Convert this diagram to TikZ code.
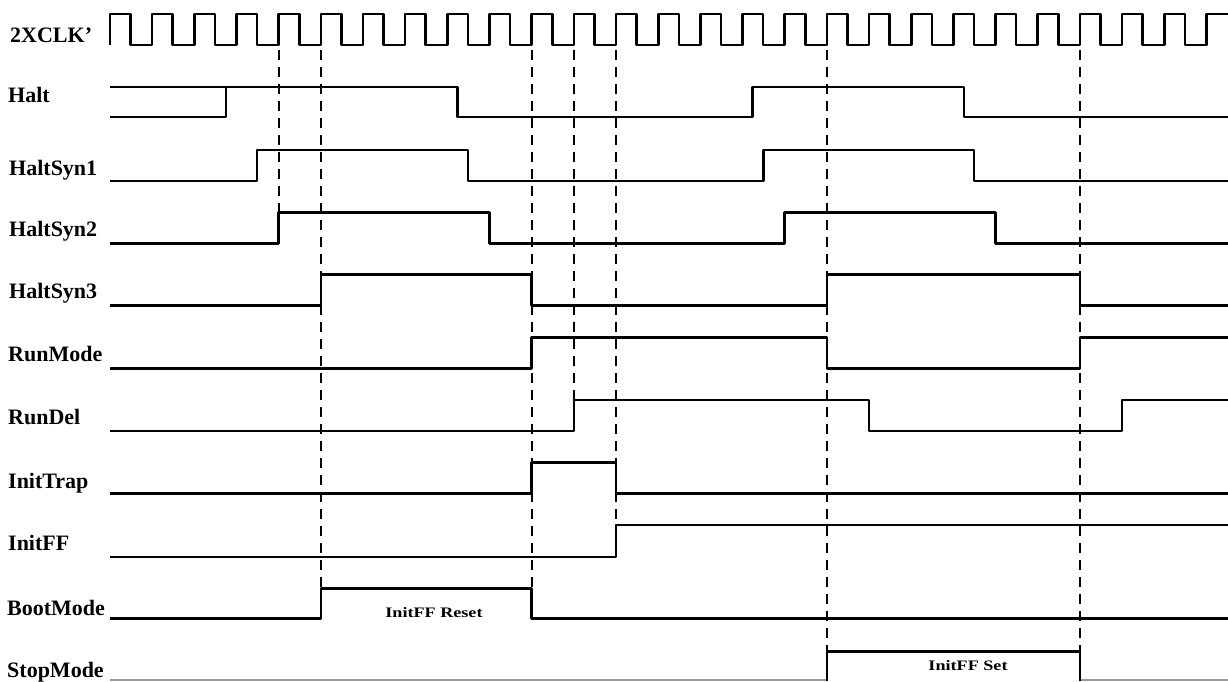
\documentclass[tikz,border=0pt]{standalone}
\usepackage{fontspec}
\usepackage{graphicx}
\setmainfont{Liberation Serif}
\tikzset{
  sig/.style={line width=2.6pt, line join=round},
  faint/.style={line width=2.2pt, black!40},
  guide/.style={line width=2.1pt, dash pattern=on 10pt off 7pt},
  lbl/.style={anchor=base west, inner sep=0pt, font=\fontsize{22}{23}\selectfont\bfseries},
  note/.style={anchor=base, inner sep=0pt, font=\fontsize{14.5}{15}\selectfont\bfseries}
}
\begin{document}
\begin{tikzpicture}[x=1pt,y=-1pt]
\useasboundingbox (0,0) rectangle (1228,681);
% labels
\node[lbl] (lclk) at (10,42) {2XCLK'};
\node[lbl] (lhalt) at (8,102) {Halt};
\node[lbl] (lhs1) at (9,175) {HaltSyn1};
\node[lbl] (lhs2) at (9,236) {HaltSyn2};
\node[lbl] (lhs3) at (9,298) {HaltSyn3};
\node[lbl] (lrun) at (8,361) {RunMode};
\node[lbl] (lrdel) at (8,424) {RunDel};
\node[lbl] (ltrap) at (8,488) {InitTrap};
\node[lbl] (lff) at (8,550) {InitFF};
\node[lbl] (lboot) at (7,615) {BootMode};
\node[lbl] (lstop) at (7,677) {StopMode};
% clock
\draw[sig] (110,45) \foreach \k in {0,...,25} {
  -- ({110+42.17*\k},45) -- ({110+42.17*\k},14) -- ({130.6+42.17*\k},14) -- ({130.6+42.17*\k},45)
} -- (1206.4,45) -- (1206.4,14) -- (1228,14);
% dashed guides
\draw[guide] (278.7,50) -- (278.7,212.3);
\draw[guide] (320.9,50) -- (320.9,588.3);
\draw[guide] (531.7,50) -- (531.7,588.3);
\draw[guide] (573.9,50) -- (573.9,400);
\draw[guide] (616,50) -- (616,525);
\draw[guide] (826.9,50) -- (826.9,651.7);
\draw[guide] (1079.9,50) -- (1079.9,651.7);
% Halt
\draw[sig] (110,87) -- (457.3,87) -- (457.3,117) -- (752.7,117) -- (752.7,87) -- (964,87) -- (964,117) -- (1228,117);
\draw[sig] (110,117) -- (226,117) -- (226,87);
% HaltSyn1
\draw[sig] (110,181) -- (257.1,181) -- (257.1,150) -- (468,150) -- (468,181) -- (763.2,181) -- (763.2,150) -- (974,150) -- (974,181) -- (1228,181);
% HaltSyn2
\draw[sig] (110,243.3) -- (278.7,243.3) -- (278.7,212.3) -- (489.5,212.3) -- (489.5,243.3) -- (784.7,243.3) -- (784.7,212.3) -- (995.6,212.3) -- (995.6,243.3) -- (1228,243.3);
% HaltSyn3
\draw[sig] (110,305.7) -- (320.9,305.7) -- (320.9,274.5) -- (531.7,274.5) -- (531.7,305.7) -- (826.9,305.7) -- (826.9,274.5) -- (1079.9,274.5) -- (1079.9,305.7) -- (1228,305.7);
% RunMode
\draw[sig] (110,368.3) -- (531.7,368.3) -- (531.7,337.3) -- (826.9,337.3) -- (826.9,368.3) -- (1079.9,368.3) -- (1079.9,337.3) -- (1228,337.3);
% RunDel
\draw[sig] (110,431) -- (573.9,431) -- (573.9,400) -- (869.1,400) -- (869.1,431) -- (1122.1,431) -- (1122.1,400) -- (1228,400);
% InitTrap
\draw[sig] (110,493.3) -- (531.7,493.3) -- (531.7,462.3) -- (616,462.3) -- (616,493.3) -- (1228,493.3);
% InitFF
\draw[sig] (110,557) -- (616,557) -- (616,525) -- (1228,525);
% BootMode
\draw[sig] (110,618.3) -- (320.9,618.3) -- (320.9,588.3) -- (531.7,588.3) -- (531.7,618.3) -- (1228,618.3);
% StopMode
\draw[faint] (110,680) -- (826.9,680);
\draw[faint] (1079.9,680) -- (1228,680);
\draw[sig] (826.9,681) -- (826.9,651.7) -- (1079.9,651.7) -- (1079.9,681);
% notes
\node[note] (nreset) at (434,617) {\scalebox{1.25}[1]{InitFF Reset}};
\node[note] (nset) at (968,670) {\scalebox{1.25}[1]{InitFF Set}};
\end{tikzpicture}
\end{document}
